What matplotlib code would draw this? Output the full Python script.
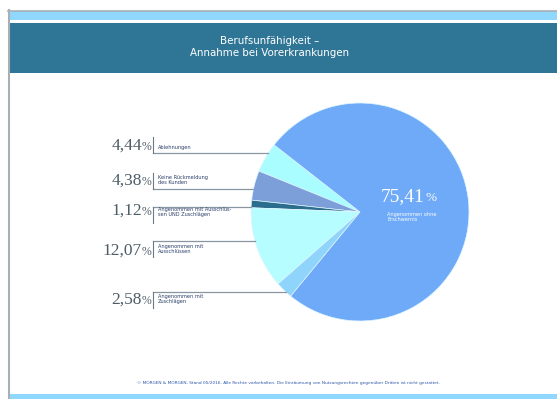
import matplotlib
matplotlib.use("Agg")
import matplotlib.pyplot as plt
import numpy as np

# ---- data ----
categories = ["Ablehnungen", "Keine Rückmeldung\ndes Kunden",
              "Angenommen mit Ausschlüs-\nsen UND Zuschlägen",
              "Angenommen mit\nAusschlüssen", "Angenommen mit\nZuschlägen",
              "Angenommen ohne\nErschwernis"]
values = [4.44, 4.38, 1.12, 12.07, 2.58, 75.41]
value_labels = ["4,44", "4,38", "1,12", "12,07", "2,58", "75,41"]
colors = ["#a9fdff", "#7d9fd9", "#2b6d8c", "#b6fdff", "#8fd4fb", "#6eaaf7"]

title = "Berufsunfähigkeit –\nAnnahme bei Vorerkrankungen"
footer = ("© MORGEN & MORGEN, Stand 05/2016. Alle Rechte vorbehalten. Die Einräumung "
          "von Nutzungsrechten gegenüber Dritten ist nicht gestattet.")

W, H = 557, 399
fig = plt.figure(figsize=(W / 100, H / 100), dpi=100)
fig.patch.set_facecolor("white")

# pie
cx, cy, r = 360, 212, 109
pax = fig.add_axes([(cx - r) / W, (H - cy - r) / H, 2 * r / W, 2 * r / H])
pax.pie(values, colors=colors, startangle=142, counterclock=True,
        wedgeprops=dict(edgecolor="#dff6ff", linewidth=0.5))
pax.set_xlim(-1, 1)
pax.set_ylim(-1, 1)
pax.axis("off")
pax.set_zorder(1)

# overlay axes in pixel coordinates (on top of the pie)
ov = fig.add_axes([0, 0, 1, 1])
ov.set_xlim(0, W)
ov.set_ylim(H, 0)
ov.axis("off")
ov.patch.set_alpha(0)
ov.set_zorder(2)

# frame and bands
ov.plot([8, W], [10.5, 10.5], color="#a8b0b4", lw=1.2)
ov.plot([8.5, 8.5], [10, H], color="#a8b0b4", lw=1.5)
ov.add_patch(plt.Rectangle((9, 11), W - 9, 8.5, color="#90d7fd", lw=0))
ov.add_patch(plt.Rectangle((9, 23), W - 9, 50, color="#2f7595", lw=0))
ov.add_patch(plt.Rectangle((9, 394), W - 9, 5, color="#90d7fd", lw=0))
ov.text(270, 47, title, color="white", ha="center", va="center",
        fontsize=7.4, family="DejaVu Sans", linespacing=1.3)
ov.text(288, 383, footer, color="#2c55a8", ha="center", va="center",
        fontsize=3.1, family="DejaVu Sans")

# annotations for the small slices
line_y = [153, 189, 207, 241, 292]
line_above = [False, False, True, True, True]   # line below text for first two
num_y = [146, 181, 211, 251, 300]
lab_y = [147, 180, 212, 249, 299]
bx = 153
for i in range(5):
    ly = line_y[i]
    xe = cx - np.sqrt(r ** 2 - (ly - cy) ** 2)
    ov.plot([bx, xe], [ly, ly], color="#8796a0", lw=0.9)
    if line_above[i]:
        ov.plot([bx, bx], [ly, ly + 16], color="#6b7a85", lw=0.8)
    else:
        ov.plot([bx, bx], [ly - 16, ly], color="#6b7a85", lw=0.8)
    ov.text(bx - 11, num_y[i], value_labels[i], color="#4d5d68",
            ha="right", va="center", fontsize=12.5,
            family="Liberation Serif")
    ov.text(bx - 2, num_y[i] + 1, "%", color="#4d5d68", ha="right",
            va="center", fontsize=8.5, family="Liberation Serif")
    ov.text(bx + 5, lab_y[i], categories[i], color="#2a3f6a", ha="left",
            va="center", fontsize=3.6, family="DejaVu Sans", linespacing=1.1)

# big slice label
ov.text(425, 197, value_labels[5], color="white", ha="right", va="center",
        fontsize=14, family="Liberation Serif")
ov.text(426, 198, "%", color="white", ha="left", va="center",
        fontsize=9.5, family="Liberation Serif")
ov.text(387, 217, categories[5], color="white", ha="left", va="center",
        fontsize=3.6, family="DejaVu Sans", linespacing=1.1)

fig.savefig("out.png", dpi=100, facecolor="white")
